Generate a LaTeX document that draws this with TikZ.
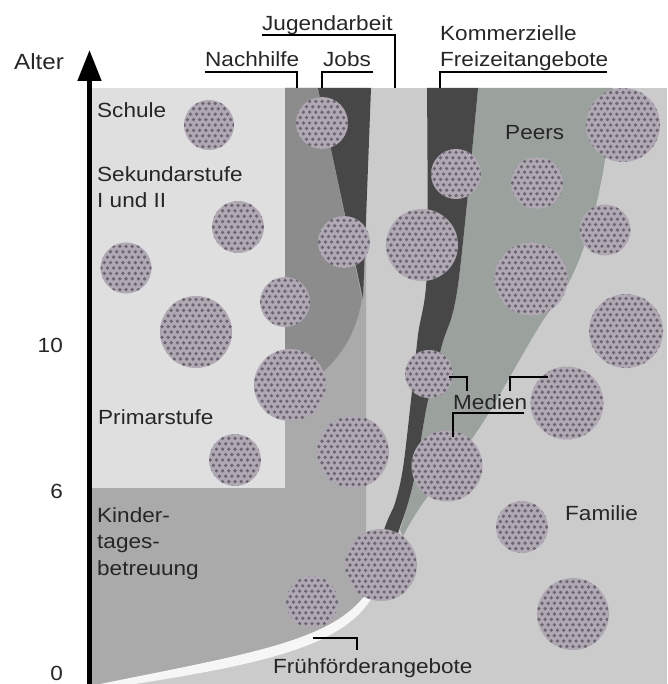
\documentclass[tikz,border=0pt]{standalone}
\usepackage{fontspec}
\setmainfont{Liberation Sans}[FakeStretch=1.1]
\usetikzlibrary{arrows.meta}
\definecolor{bgc}{HTML}{CBCBCB}
\definecolor{schoolc}{HTML}{DFDFDF}
\definecolor{kitac}{HTML}{AAAAAA}
\definecolor{nachc}{HTML}{8C8C8C}
\definecolor{darkc}{HTML}{474747}
\definecolor{peerc}{HTML}{9BA29D}
\definecolor{circc}{HTML}{B0A9B3}
\definecolor{dotc}{HTML}{6C6672}
\definecolor{txtc}{HTML}{262626}
\definecolor{whitec}{HTML}{F6F6F6}
\tikzset{
  blob/.style={circle, draw=none, inner sep=0pt, minimum size=#1, fill=circc,
    path picture={
      \foreach \i in {-7,...,7}{
        \foreach \j in {-8,...,8}{
          \fill[dotc, shift={(path picture bounding box.center)}]
            ({(\i+0.5*Mod(\j,2))*6.2},{\j*5.4}) circle[radius=1.85pt];
        }
      }
    }},
  lbl/.style={font=\fontsize{20.5}{24}\selectfont, text=txtc, inner sep=0pt, anchor=base west},
  numlbl/.style={font=\fontsize{20.5}{24}\selectfont, text=txtc, inner sep=0pt, anchor=base east},
  leader/.style={line width=1.7pt, black, line cap=butt, line join=miter}
}
\begin{document}
\begin{tikzpicture}[x=1pt,y=-1pt]
\useasboundingbox (0,0) rectangle (667,684);
% background areas
\fill[bgc] (92,88) rectangle (667,684);
\fill[schoolc] (92,88) rectangle (285,488);
% Kindertagesbetreuung
\fill[kitac] (92,488) -- (285,488) -- (285,88) -- (366,88) -- (366,596)
  .. controls (332,640) and (255,653) .. (100,684) -- (92,684) -- cycle;
% Fruehfoerderangebote white band
\fill[whitec] (100,684) .. controls (255,653) and (332,640) .. (366,594)
  -- (371,599) .. controls (342,646) and (262,664) .. (135,684) -- cycle;
% Nachhilfe
\fill[nachc] (285,88) -- (318,88) -- (362,299)
  .. controls (356,335) and (340,362) .. (303,388) -- (285,392) -- cycle;
% Jobs
\fill[darkc] (318,88) -- (371,88) -- (363,299) -- cycle;
% Peers
\fill[peerc] plot[smooth, tension=0.55] coordinates {(478,88) (458,285) (442,345) (427,405) (416,470) (408,503) (400,530)}
  -- plot[smooth, tension=0.55] coordinates {(403,536) (423,503) (480,427) (537,330) (570,280) (591,225) (605,160) (613,88)} -- cycle;
% Kommerzielle Freizeitangebote
\fill[darkc] plot[smooth, tension=0.55] coordinates {(427,88) (427,270) (418,335) (411,400) (403,468) (395,503) (385,527) (362,596)}
  -- plot[smooth, tension=0.55] coordinates {(368,598) (390,555) (400,527) (408,503) (416,470) (427,405) (442,345) (458,285) (478,88)} -- cycle;
% axis
\coordinate (axb) at (89.5,684);
\coordinate (axt) at (89.5,50);
\draw[line width=5pt, -{Triangle[width=23pt,length=31pt]}] (axb) -- (axt);
% circles
\node[blob=50] (c1) at (209,125) {};
\node[blob=52] (c2) at (238,227) {};
\node[blob=51] (c3) at (126,268) {};
\node[blob=72] (c4) at (196,332) {};
\node[blob=50] (c5) at (285,302) {};
\node[blob=52] (c6) at (322,123) {};
\node[blob=52] (c7) at (344,242) {};
\node[blob=72] (c8) at (290,385) {};
\node[blob=72] (c9) at (353,452) {};
\node[blob=72] (c10) at (422,245) {};
\node[blob=50] (c11) at (456,174) {};
\node[blob=48] (c12) at (429,374) {};
\node[blob=71] (c13) at (447,466) {};
\node[blob=52] (c14) at (537,183) {};
\node[blob=73] (c15) at (531,279) {};
\node[blob=74] (c16) at (623,125) {};
\node[blob=51] (c17) at (605,230) {};
\node[blob=74] (c18) at (626,331) {};
\node[blob=73] (c19) at (567,403) {};
\node[blob=52] (c20) at (522,527) {};
\node[blob=72] (c21) at (573,614) {};
\node[blob=72] (c22) at (381,565) {};
\node[blob=52] (c23) at (312,602) {};
\node[blob=52] (c24) at (235,460) {};
% labels
\node[lbl, font=\fontsize{22}{26}\selectfont] (alter) at (14,70) {Alter};
\node[lbl] (jug) at (262,31) {Jugendarbeit};
\node[lbl] (nach) at (205,67) {Nachhilfe};
\node[lbl] (jobs) at (323,67) {Jobs};
\node[lbl] (komm) at (440,41) {Kommerzielle};
\node[lbl] (frei) at (440,67) {Freizeitangebote};
\node[lbl] (schule) at (97,118) {Schule};
\node[lbl] (sek) at (97,182) {Sekundarstufe};
\node[lbl] (sek2) at (97,208) {I und II};
\node[lbl] (prim) at (98,424) {Primarstufe};
\node[lbl] (kita1) at (97,522) {Kinder-};
\node[lbl] (kita2) at (97,548) {tages-};
\node[lbl] (kita3) at (97,575) {betreuung};
\node[numlbl] (n10) at (63,352) {10};
\node[numlbl] (n6) at (63,498) {6};
\node[numlbl] (n0) at (63,680) {0};
\node[lbl] (peers) at (505,140) {Peers};
\node[lbl] (medien) at (453,409) {Medien};
\node[lbl] (fam) at (565,520) {Familie};
\node[lbl] (frueh) at (273,673) {Frühförderangebote};
% leader lines
\coordinate (jugA) at (262,35); \coordinate (jugB) at (395,35); \coordinate (jugC) at (395,88);
\draw[leader] (jugA) -- (jugB) -- (jugC);
\coordinate (nachA) at (205,72); \coordinate (nachB) at (297,72); \coordinate (nachC) at (297,88);
\draw[leader] (nachA) -- (nachB) -- (nachC);
\coordinate (jobsA) at (322,88); \coordinate (jobsB) at (322,72); \coordinate (jobsC) at (373,72);
\draw[leader] (jobsA) -- (jobsB) -- (jobsC);
\coordinate (kommA) at (440,88); \coordinate (kommB) at (440,72); \coordinate (kommC) at (607,72);
\draw[leader] (kommA) -- (kommB) -- (kommC);
\coordinate (medA) at (449,377); \coordinate (medB) at (467,377); \coordinate (medC) at (467,391);
\draw[leader] (medA) -- (medB) -- (medC);
\coordinate (medD) at (510,391); \coordinate (medE) at (510,377); \coordinate (medF) at (548,377);
\draw[leader] (medD) -- (medE) -- (medF);
\coordinate (medG) at (453,413); \coordinate (medH) at (524,413); \coordinate (medI) at (453,437);
\draw[leader] (medH) -- (medG) -- (medI);
\coordinate (frA) at (313,638); \coordinate (frB) at (357,638); \coordinate (frC) at (357,650);
\draw[leader] (frA) -- (frB) -- (frC);
\end{tikzpicture}
\end{document}
